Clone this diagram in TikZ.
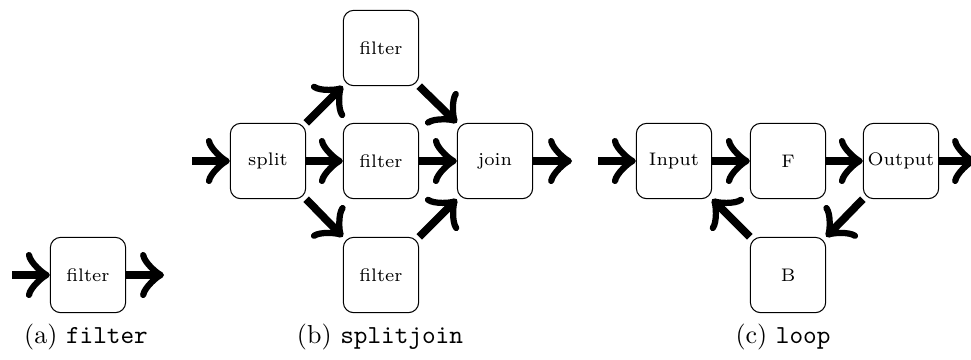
\documentclass[tikz,border=0pt]{standalone}
\usepackage{tikz}
\usetikzlibrary{arrows.meta}

\tikzset{
  box/.style={draw, rounded corners=4pt, minimum size=29pt, inner sep=0pt, font=\scriptsize},
  flow/.style={-{Classical TikZ Rightarrow[scale=1.35]}, line width=3pt},
  caption/.style={anchor=base}
}

\begin{document}
\begin{tikzpicture}[x=0.385pt,y=-0.385pt,line join=bevel]
  \useasboundingbox (0,0) rectangle (971,359);
  % (a) filter
  \node[box] (f) at (88,275) {filter};
  \coordinate (fin) at (12,275);
  \coordinate (fout) at (164,275);
  \draw[flow] (fin) -- (f.west);
  \draw[flow] (f.east) -- (fout);
  \node[caption] (capa) at (86,343) {(a) \texttt{filter}};
  % (b) splitjoin
  \node[box] (split) at (268,161) {split};
  \node[box] (ftop) at (381,48) {filter};
  \node[box] (fmid) at (381,161) {filter};
  \node[box] (fbot) at (381,275) {filter};
  \node[box] (join) at (495,161) {join};
  \coordinate (sin) at (192,161);
  \coordinate (jout) at (572,161);
  \draw[flow] (sin) -- (split.west);
  \draw[flow] (split.north east) -- (ftop.south west);
  \draw[flow] (split.east) -- (fmid.west);
  \draw[flow] (split.south east) -- (fbot.north west);
  \draw[flow] (ftop.south east) -- (join.north west);
  \draw[flow] (fmid.east) -- (join.west);
  \draw[flow] (fbot.north east) -- (join.south west);
  \draw[flow] (join.east) -- (jout);
  \node[caption] (capb) at (380,343) {(b) \texttt{splitjoin}};
  % (c) loop
  \node[box] (in) at (674,161) {Input};
  \node[box] (F) at (788,161) {F};
  \node[box] (out) at (901,161) {Output};
  \node[box] (B) at (788,275) {B};
  \coordinate (lin) at (598,161);
  \coordinate (lout) at (976,161);
  \draw[flow] (lin) -- (in.west);
  \draw[flow] (in.east) -- (F.west);
  \draw[flow] (F.east) -- (out.west);
  \draw[flow] (out.east) -- (lout);
  \draw[flow] (out.south west) -- (B.north east);
  \draw[flow] (B.north west) -- (in.south east);
  \node[caption] (capc) at (783,343) {(c) \texttt{loop}};
\end{tikzpicture}
\end{document}
